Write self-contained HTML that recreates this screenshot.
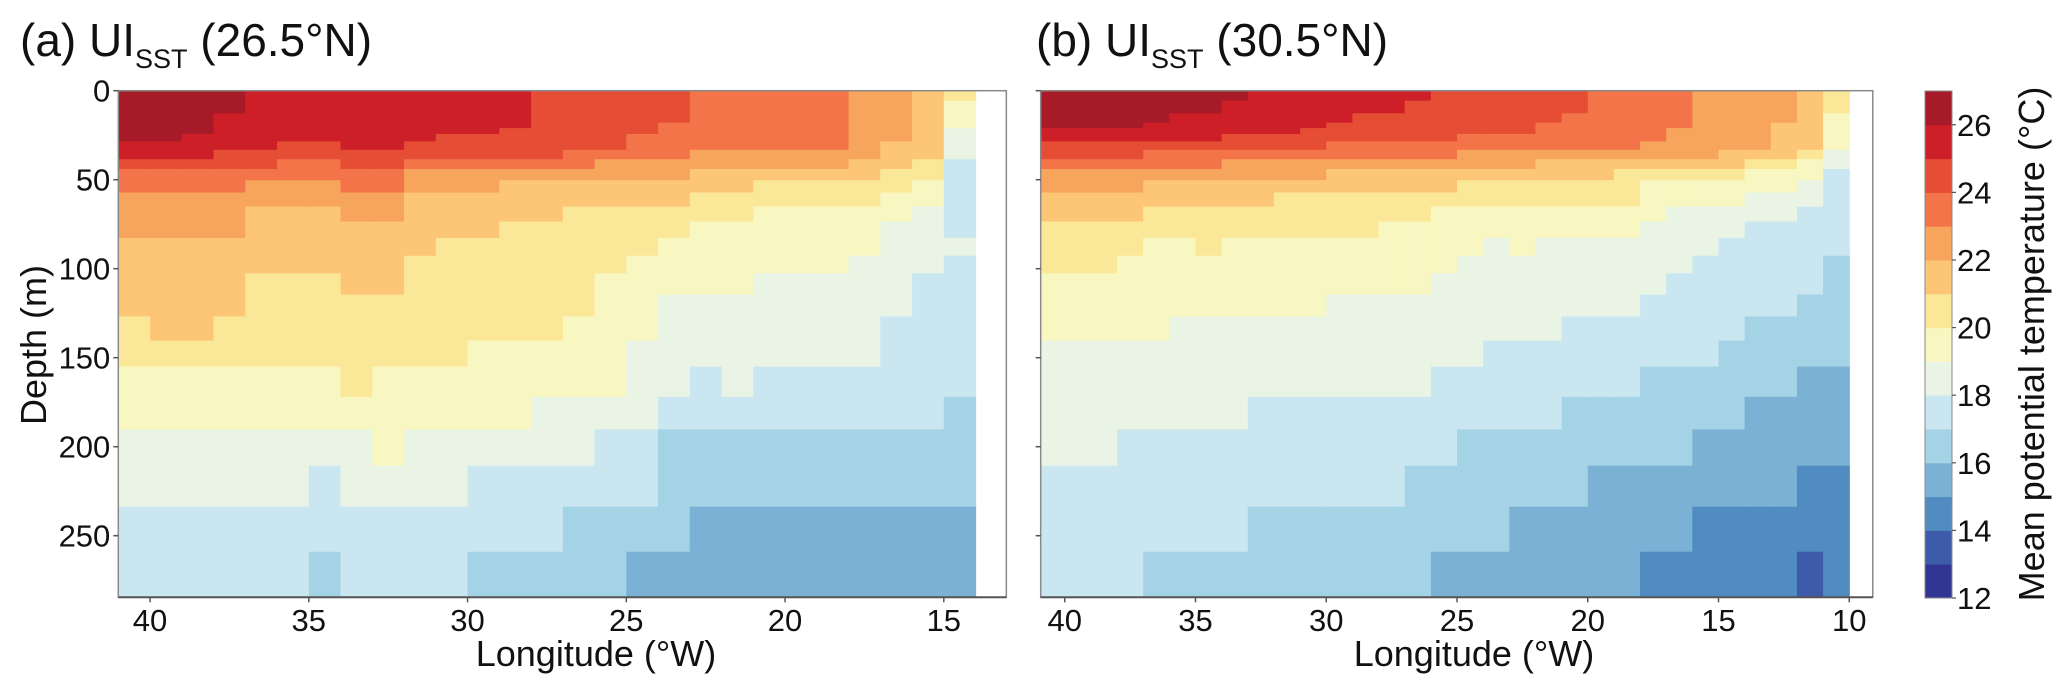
<!DOCTYPE html>
<html><head><meta charset="utf-8">
<style>
html,body{margin:0;padding:0;background:#fff;}
svg{display:block;font-family:"Liberation Sans",Arial,sans-serif;}
</style></head>
<body>
<svg id="chart" width="2067" height="692" viewBox="0 0 2067 692" xmlns="http://www.w3.org/2000/svg">
  <rect x="0" y="0" width="2067" height="692" fill="#fff"/>
  <g id="panelA"></g>
  <g id="panelB"></g>
  <g id="cbar"></g>
  <text x="20" y="56" font-size="46" fill="#111">(a) UI<tspan font-size="27" dy="12">SST</tspan><tspan dy="-12"> (26.5°N)</tspan></text>
  <text x="1036" y="56" font-size="46" fill="#111">(b) UI<tspan font-size="27" dy="12">SST</tspan><tspan dy="-12"> (30.5°N)</tspan></text>
  <text x="596" y="666" font-size="36" text-anchor="middle" fill="#111">Longitude (°W)</text>
  <text x="1474" y="666" font-size="36" text-anchor="middle" fill="#111">Longitude (°W)</text>
  <text transform="translate(46,345) rotate(-90)" font-size="36" text-anchor="middle" fill="#111">Depth (m)</text>
  <text transform="translate(2044,344) rotate(-90)" font-size="36" text-anchor="middle" fill="#111">Mean potential temperature (°C)</text>
</svg>
<script>
// ---- data ----
const depthEdges = [0,5.6,12.7,18,21,24.3,28.5,33.2,38.5,44,50.3,57.2,65.1,73.5,82.7,92.7,102.6,114.5,126.8,140.4,155,172,190.3,210.7,233.7,259,284.6];
const levels = [12,13,14,15,16,17,18,19,20,21,22,23,24,25,26];
const levelColors = ["#313695","#3d5ba8","#508bc1","#7ab1d4","#a4d3e6","#cae7f1","#eaf4e5","#f9f7c1","#fae898","#fdc677","#f7a45c","#f37449","#e54d34","#cd1f28","#a71b29"];
const cbarTicks = [12,14,16,18,20,22,24,26];
const depthTicks = [0,50,100,150,200,250];
const lonTicksA = [40,35,30,25,20,15];
const lonTicksB = [40,35,30,25,20,15,10];
const lonEdgesA = [41,40,39,38,37,36,35,34,33,32,31,30,29,28,27,26,25,24,23,22,21,20,19,18,17,16,15,14];
const lonEdgesB = [40.92,40,39,38,37,36,35,34,33,32,31,30,29,28,27,26,25,24,23,22,21,20,19,18,17,16,15,14,13,12,11,10];
// each column: runs of [temperature level, end row (exclusive)]
const columnsA = [
[[26,6],[25,8],[24,9],[23,11],[22,14],[21,18],[20,20],[19,22],[18,24],[17,26]],
[[26,6],[25,8],[24,9],[23,11],[22,14],[21,19],[20,20],[19,22],[18,24],[17,26]],
[[26,5],[25,8],[24,9],[23,11],[22,14],[21,19],[20,20],[19,22],[18,24],[17,26]],
[[26,2],[25,7],[24,9],[23,11],[22,14],[21,18],[20,20],[19,22],[18,24],[17,26]],
[[25,7],[24,9],[23,10],[22,12],[21,16],[20,20],[19,22],[18,24],[17,26]],
[[25,6],[24,8],[23,10],[22,12],[21,16],[20,20],[19,22],[18,24],[17,26]],
[[25,6],[24,8],[23,10],[22,12],[21,16],[20,20],[19,22],[18,23],[17,25],[16,26]],
[[25,7],[24,9],[23,11],[22,13],[21,17],[20,21],[19,22],[18,24],[17,26]],
[[25,7],[24,9],[23,11],[22,13],[21,17],[20,20],[19,23],[18,24],[17,26]],
[[25,6],[24,8],[23,9],[22,11],[21,15],[20,20],[19,22],[18,24],[17,26]],
[[25,5],[24,8],[23,9],[22,11],[21,14],[20,20],[19,22],[18,24],[17,26]],
[[25,5],[24,8],[23,9],[22,11],[21,14],[20,19],[19,22],[18,23],[17,25],[16,26]],
[[25,4],[24,8],[23,9],[22,10],[21,13],[20,19],[19,22],[18,23],[17,25],[16,26]],
[[24,8],[23,9],[22,10],[21,13],[20,19],[19,21],[18,23],[17,25],[16,26]],
[[24,7],[23,9],[22,10],[21,12],[20,18],[19,21],[18,23],[17,24],[16,26]],
[[24,7],[23,8],[22,10],[21,12],[20,16],[19,21],[18,22],[17,24],[16,26]],
[[24,5],[23,8],[22,10],[21,12],[20,15],[19,19],[18,22],[17,24],[16,25],[15,26]],
[[24,3],[23,8],[22,10],[21,12],[20,14],[19,17],[18,21],[17,22],[16,25],[15,26]],
[[23,7],[22,9],[21,11],[20,13],[19,17],[18,20],[17,22],[16,24],[15,26]],
[[23,7],[22,9],[21,11],[20,13],[19,17],[18,21],[17,22],[16,24],[15,26]],
[[23,7],[22,9],[21,10],[20,12],[19,16],[18,20],[17,22],[16,24],[15,26]],
[[23,7],[22,9],[21,10],[20,12],[19,16],[18,20],[17,22],[16,24],[15,26]],
[[23,7],[22,9],[21,10],[20,12],[19,16],[18,20],[17,22],[16,24],[15,26]],
[[22,8],[21,10],[20,12],[19,15],[18,20],[17,22],[16,24],[15,26]],
[[22,6],[21,9],[20,11],[19,13],[18,18],[17,22],[16,24],[15,26]],
[[21,8],[20,10],[19,12],[18,16],[17,22],[16,24],[15,26]],
[[20,1],[19,4],[18,8],[17,14],[18,15],[17,21],[16,24],[15,26]]
];
const columnsB = [
[[26,4],[25,6],[24,8],[23,9],[22,11],[21,13],[20,16],[19,19],[18,23],[17,26]],
[[26,4],[25,6],[24,8],[23,9],[22,11],[21,13],[20,16],[19,19],[18,23],[17,26]],
[[26,4],[25,6],[24,8],[23,9],[22,11],[21,13],[20,16],[19,19],[18,23],[17,26]],
[[26,4],[25,6],[24,8],[23,9],[22,11],[21,13],[20,15],[19,19],[18,22],[17,26]],
[[26,3],[25,6],[24,7],[23,9],[22,10],[21,12],[20,14],[19,19],[18,22],[17,25],[16,26]],
[[26,2],[25,6],[24,7],[23,9],[22,10],[21,12],[20,14],[19,18],[18,22],[17,25],[16,26]],
[[26,2],[25,6],[24,7],[23,9],[22,10],[21,12],[20,15],[19,18],[18,22],[17,25],[16,26]],
[[26,1],[25,5],[24,7],[23,8],[22,10],[21,12],[20,14],[19,18],[18,22],[17,25],[16,26]],
[[25,5],[24,7],[23,8],[22,10],[21,12],[20,14],[19,18],[18,21],[17,24],[16,26]],
[[25,5],[24,7],[23,8],[22,10],[21,11],[20,14],[19,18],[18,21],[17,24],[16,26]],
[[25,4],[24,7],[23,8],[22,10],[21,11],[20,14],[19,18],[18,21],[17,24],[16,26]],
[[25,3],[24,6],[23,8],[22,9],[21,11],[20,14],[19,17],[18,21],[17,24],[16,26]],
[[25,2],[24,6],[23,8],[22,9],[21,11],[20,14],[19,17],[18,21],[17,24],[16,26]],
[[25,2],[24,6],[23,8],[22,9],[21,11],[20,13],[19,17],[18,21],[17,24],[16,26]],
[[25,1],[24,6],[23,8],[22,9],[21,11],[20,13],[19,17],[18,21],[17,23],[16,26]],
[[24,6],[23,8],[22,9],[21,11],[20,12],[19,16],[18,20],[17,23],[16,25],[15,26]],
[[24,5],[23,7],[22,9],[21,10],[20,12],[19,15],[18,20],[17,22],[16,25],[15,26]],
[[24,5],[23,7],[22,9],[21,10],[20,12],[19,14],[18,19],[17,22],[16,25],[15,26]],
[[24,5],[23,7],[22,9],[21,10],[20,12],[19,15],[18,19],[17,22],[16,24],[15,26]],
[[24,3],[23,7],[22,8],[21,10],[20,12],[19,14],[18,19],[17,22],[16,24],[15,26]],
[[24,2],[23,7],[22,8],[21,10],[20,12],[19,14],[18,18],[17,21],[16,24],[15,26]],
[[23,7],[22,8],[21,10],[20,12],[19,14],[18,18],[17,21],[16,23],[15,26]],
[[23,7],[22,8],[21,9],[20,12],[19,14],[18,18],[17,21],[16,23],[15,26]],
[[23,6],[22,8],[21,9],[20,10],[19,13],[18,17],[17,20],[16,23],[15,25],[14,26]],
[[23,4],[22,8],[21,9],[20,10],[19,12],[18,16],[17,20],[16,23],[15,25],[14,26]],
[[22,8],[21,9],[20,10],[19,12],[18,15],[17,20],[16,22],[15,24],[14,26]],
[[22,7],[21,9],[20,10],[19,12],[18,14],[17,19],[16,22],[15,24],[14,26]],
[[22,7],[21,8],[20,9],[19,11],[18,13],[17,18],[16,21],[15,24],[14,26]],
[[22,3],[21,8],[20,9],[19,11],[18,13],[17,18],[16,21],[15,24],[14,26]],
[[21,7],[20,8],[19,10],[18,12],[17,17],[16,20],[15,23],[14,25],[13,26]],
[[20,2],[19,7],[18,9],[17,15],[16,20],[15,23],[14,26]]
];

// ---- scales ----
const NS = "http://www.w3.org/2000/svg";
function yDepth(d){ return 90.7 + d*1.78; }
function xA(lon){ return 118.3 + (41-lon)*31.75; }
function xB(lon){ return 1457 + (25-lon)*26.15; }
function colorOf(level){ return levelColors[levels.indexOf(level)]; }
function mk(tag, attrs, parent){
  const el = document.createElementNS(NS, tag);
  for (const k in attrs) el.setAttribute(k, attrs[k]);
  parent.appendChild(el);
  return el;
}

function drawPanel(g, columns, lonEdges, xf, lonMin, lonMax, ticks, showLabels, prefix){
  const x0 = xf(lonMin), x1 = xf(lonMax), yT = yDepth(0), yB = yDepth(284.6);
  columns.forEach((runs, ci) => {
    let start = 0;
    const cx0 = xf(lonEdges[ci]), cx1 = xf(lonEdges[ci+1]);
    runs.forEach(([lev, end]) => {
      const r = mk('rect', {x: cx0.toFixed(2), y: yDepth(depthEdges[start]).toFixed(2),
        width: (cx1-cx0+0.6).toFixed(2), height: (yDepth(depthEdges[end]) - yDepth(depthEdges[start]) + 0.6).toFixed(2),
        fill: colorOf(lev)}, g);
      
      
      start = end;
    });
  });
  const frame = mk('rect', {x: x0, y: yT, width: x1-x0, height: yB-yT, fill: 'none', stroke: '#8a8a8a', 'stroke-width': 1.5}, g);
  
  
  mk('line', {x1: x0, y1: yB, x2: x1, y2: yB, stroke: '#555', 'stroke-width': 2}, g);
  depthTicks.forEach(d => {
    const y = yDepth(d);
    const t = mk('line', {x1: x0-5, y1: y, x2: x0, y2: y, stroke: '#555', 'stroke-width': 1.5}, g);
    
    
    if (showLabels) {
      const tx = mk('text', {x: x0-8, y: y+11, 'font-size': 31, 'text-anchor': 'end', fill: '#111'}, g);
      tx.textContent = d;
      
      
    }
  });
  ticks.forEach(lon => {
    const x = xf(lon);
    const t = mk('line', {x1: x, y1: yB, x2: x, y2: yB+5, stroke: '#555', 'stroke-width': 1.5}, g);
    
    
    const tx = mk('text', {x: x, y: 631, 'font-size': 31, 'text-anchor': 'middle', fill: '#111'}, g);
    tx.textContent = lon;
    
    
  });
}

drawPanel(document.getElementById('panelA'), columnsA, lonEdgesA, xA, 41, 13.03, lonTicksA, true, 'panel-a');
drawPanel(document.getElementById('panelB'), columnsB, lonEdgesB, xB, 40.92, 9.1, lonTicksB, false, 'panel-b');

// colorbar
(function(){
  const g = document.getElementById('cbar');
  const cx = 1925, cw = 27, top = 91, bot = 598;
  const step = (bot-top)/levels.length;
  function yT(v){ return bot - (v-12)*step; }
  levels.forEach((lev, i) => {
    const r = mk('rect', {x: cx, y: yT(lev+1).toFixed(2), width: cw, height: (step+0.5).toFixed(2), fill: levelColors[i]}, g);
    
    
  });
  const f = mk('rect', {x: cx, y: top, width: cw, height: bot-top, fill: 'none', stroke: '#8a8a8a', 'stroke-width': 1}, g);
  
  
  cbarTicks.forEach(v => {
    const y = yT(v);
    const t = mk('line', {x1: cx+cw, y1: y, x2: cx+cw+4, y2: y, stroke: '#555', 'stroke-width': 1.2}, g);
    
    
    const tx = mk('text', {x: cx+cw+5, y: y+11, 'font-size': 31, fill: '#111'}, g);
    tx.textContent = v;
    
    
  });
})();
</script>
</body></html>
